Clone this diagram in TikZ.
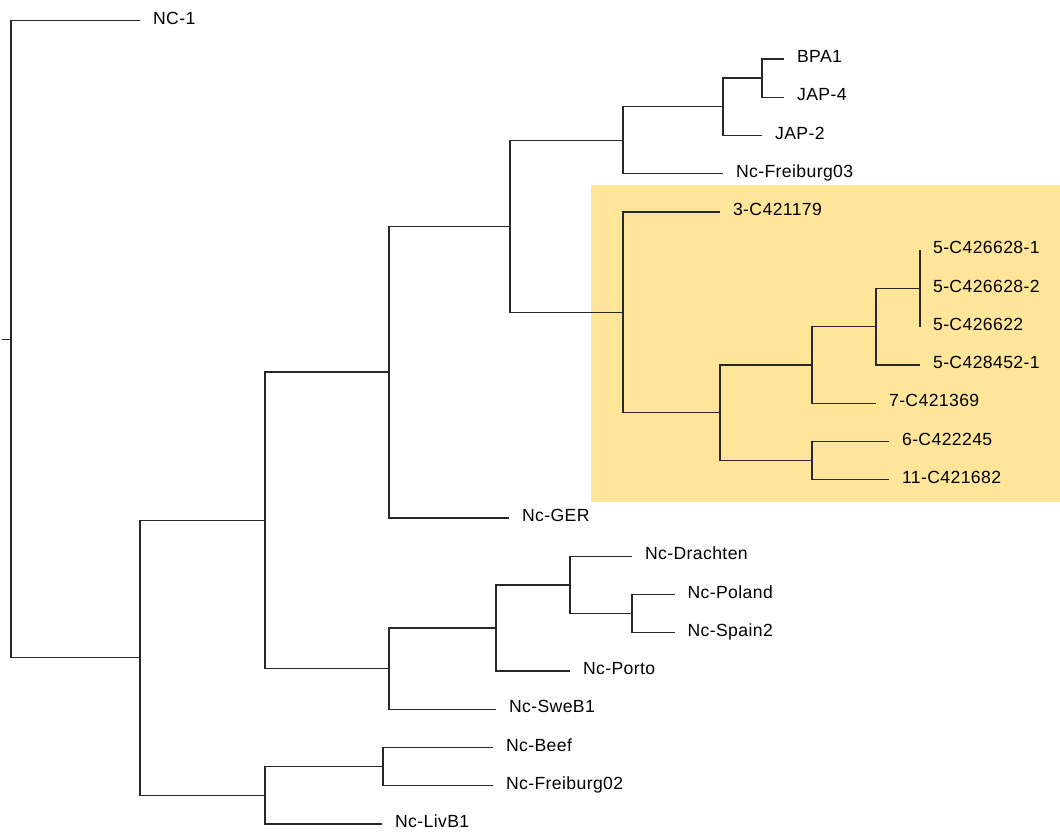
\documentclass[tikz,border=0pt]{standalone}
\usepackage{fontspec}
\setmainfont[LetterSpace=2.2]{Liberation Sans}
\definecolor{hlcol}{RGB}{255,229,153}
\definecolor{brcol}{RGB}{40,40,40}
\begin{document}
\begin{tikzpicture}[x=0.75pt,y=-0.75pt,
  br/.style={line width=1pt,draw=brcol},
  lab/.style={anchor=base west,inner sep=0pt,font=\fontsize{13.2}{15}\selectfont,xshift=9.6pt,yshift=-2.8pt},
  hl/.style={fill=hlcol,draw=none}]
\def\Y#1{20.7+38.25*#1}
\useasboundingbox (0,0) rectangle (1060,832);
% highlighted clade
\fill[hl] (591,185) rectangle (1060,501.5);
% leaves
\foreach \i/\x/\t in {0/140/NC-1, 1/784/BPA1, 2/784/JAP-4, 3/762/JAP-2, 4/723/Nc-Freiburg03,
  5/720/3-C421179, 6/920/5-C426628-1, 7/920/5-C426628-2, 8/920/5-C426622, 9/920/5-C428452-1,
  10/876/7-C421369, 11/889/6-C422245, 12/889/11-C421682, 13/509/Nc-GER, 14/632/Nc-Drachten,
  15/674.5/Nc-Poland, 16/674.5/Nc-Spain2, 17/570/Nc-Porto, 18/496/Nc-SweB1, 19/493/Nc-Beef,
  20/493/Nc-Freiburg02, 21/382/Nc-LivB1}
  { \coordinate (t\i) at (\x,{\Y{\i}}); \node[lab] (L\i) at (t\i) {\t}; }
% internal nodes
\coordinate (nA) at (762,{\Y{1.5}});
\coordinate (nB) at (723,{\Y{2.25}});
\coordinate (nC) at (623,{\Y{3.125}});
\coordinate (nD) at (920,{\Y{7}});
\coordinate (nE) at (876,{\Y{8}});
\coordinate (nF) at (812,{\Y{9}});
\coordinate (nG) at (812,{\Y{11.5}});
\coordinate (nH) at (720,{\Y{10.25}});
\coordinate (nI) at (623,{\Y{7.625}});
\coordinate (nJ) at (510,{\Y{5.375}});
\coordinate (nK) at (389,{\Y{9.1875}});
\coordinate (nL) at (632,{\Y{15.5}});
\coordinate (nM) at (570,{\Y{14.75}});
\coordinate (nN) at (496,{\Y{15.875}});
\coordinate (nO) at (389,{\Y{16.9375}});
\coordinate (nP) at (265,{\Y{13.0625}});
\coordinate (nQ) at (383,{\Y{19.5}});
\coordinate (nR) at (265,{\Y{20.25}});
\coordinate (nS) at (140,{\Y{16.65625}});
\coordinate (root) at (11,{\Y{8.328125}});
\coordinate (stub) at (2,{\Y{8.328125}});
% branches
\foreach \p/\c in {nA/t1, nA/t2, nB/nA, nB/t3, nC/nB, nC/t4,
  nD/t6, nD/t7, nD/t8, nE/nD, nE/t9, nF/nE, nF/t10, nG/t11, nG/t12,
  nH/nF, nH/nG, nI/t5, nI/nH, nJ/nC, nJ/nI, nK/nJ, nK/t13,
  nL/t15, nL/t16, nM/t14, nM/nL, nN/nM, nN/t17, nO/nN, nO/t18,
  nP/nK, nP/nO, nQ/t19, nQ/t20, nR/nQ, nR/t21, nS/nP, nS/nR,
  root/t0, root/nS}
  { \draw[br] (\p) |- (\c); }
\draw[br] (stub) -- (root);
\end{tikzpicture}
\end{document}
